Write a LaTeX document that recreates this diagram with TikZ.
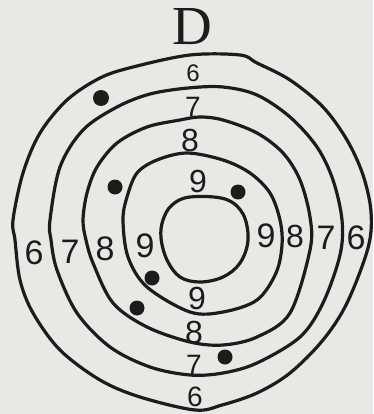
\documentclass[tikz,border=0pt]{standalone}
\usepackage{fontspec}
\setmainfont{Liberation Sans}
\newfontfamily\dfont{Liberation Serif}
\definecolor{paper}{RGB}{232,232,228}
\definecolor{ink}{RGB}{28,28,28}
\begin{document}
\begin{tikzpicture}[x=1pt,y=-1pt,
  ring/.style={line width=3.2pt,draw=ink,line join=round},
  num/.style={font=\fontsize{34}{34}\selectfont,text=ink,inner sep=0pt},
  numm/.style={font=\fontsize{32}{32}\selectfont,text=ink,inner sep=0pt},
  nums/.style={font=\fontsize{28}{28}\selectfont,text=ink,inner sep=0pt},
  hole/.style={fill=ink}]
\fill[paper] (0,0) rectangle (373,414);
\useasboundingbox (0,0) rectangle (373,414);
% rings
\draw[ring] plot[smooth cycle,tension=0.55] coordinates {(13,220) (23,173) (40,133) (67,100) (100,78) (133,67) (190,55) (240,55) (257,63) (290,80) (323,107) (347,140) (363,175) (371,212) (368,248) (347,303) (323,340) (290,373) (257,393) (222,405) (195,410) (140,397) (100,380) (60,350) (33,313) (20,280) (15,240)};
\draw[ring] plot[smooth cycle,tension=0.55] coordinates {(50,220) (60,167) (83,130) (117,107) (150,94) (188,88) (223,87) (257,95) (290,117) (317,147) (333,180) (342,220) (340,255) (323,303) (300,337) (257,363) (223,373) (190,375) (150,367) (110,347) (77,313) (57,270) (51,240)};
\draw[ring] plot[smooth cycle,tension=0.55] coordinates {(83,220) (87,193) (97,167) (117,143) (147,127) (180,120) (200,117) (223,120) (257,133) (283,153) (300,180) (310,217) (310,250) (290,313) (257,337) (223,345) (190,342) (147,327) (113,303) (93,263) (86,240)};
\draw[ring] plot[smooth cycle,tension=0.55] coordinates {(123,220) (127,197) (137,173) (157,160) (187,153) (223,160) (250,173) (270,193) (280,220) (282,245) (276,273) (257,300) (223,312) (190,312) (147,287) (128,257)};
\draw[ring] plot[smooth cycle,tension=0.6] coordinates {(163,220) (172,205) (190,197) (225,199) (243,214) (248,240) (240,263) (223,277) (200,282) (180,277) (167,260) (161,238)};
% labels
\node[font=\fontsize{55}{55}\selectfont\dfont,text=ink,inner sep=0pt] (D) at (192,27) {D};
\node[font=\fontsize{24}{24}\selectfont,text=ink,inner sep=0pt] (t6) at (193,73) {6};
\node[nums] (t7) at (193,107) {7};
\node[numm] (t8) at (190,140) {8};
\node[numm] (t9) at (198,181) {9};
\node[num] (l6) at (34,253) {6};
\node[num] (l7) at (70,252) {7};
\node[num] (l8) at (105,249) {8};
\node[num] (l9) at (145,246) {9};
\node[num] (r9) at (266,236) {9};
\node[numm] (r8) at (295,236) {8};
\node[num] (r7) at (326,238) {7};
\node[num] (r6) at (356,238) {6};
\node[numm] (b9) at (197,298) {9};
\node[numm] (b8) at (194,332) {8};
\node[nums] (b7) at (194,365) {7};
\node[nums] (b6) at (195,397) {6};
% holes
\fill[hole] (101,98) circle (8);
\fill[hole] (115,187) circle (7.5);
\fill[hole] (238,192) circle (7.5);
\fill[hole] (152,278) circle (7.5);
\fill[hole] (137,308) circle (7.5);
\fill[hole] (225,357) circle (7.5);
\end{tikzpicture}
\end{document}
